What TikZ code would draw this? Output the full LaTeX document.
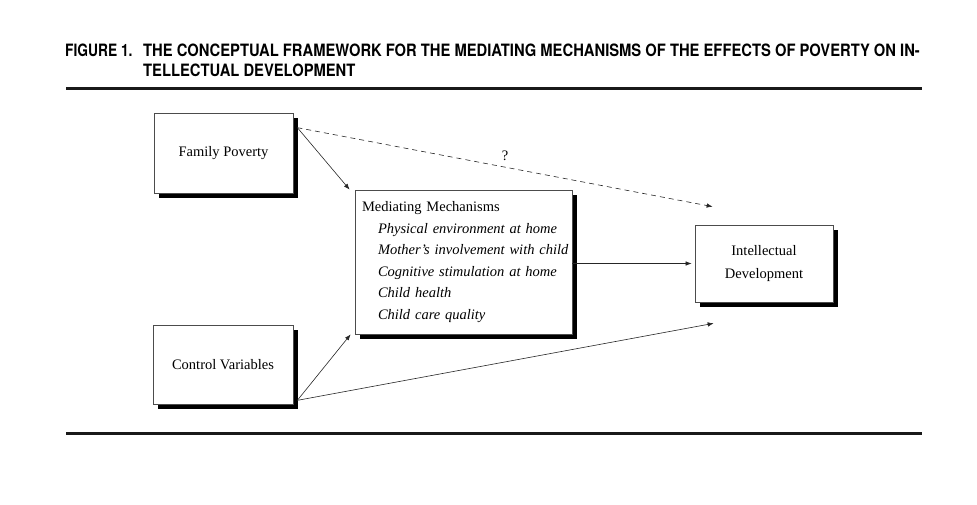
\documentclass[tikz,border=0pt]{standalone}
\usepackage{fontspec}
\setmainfont{Liberation Serif}
\newfontfamily\headfont[FakeStretch=0.868]{TeX Gyre Heros}
\newfontfamily\figfont[FakeStretch=0.81]{TeX Gyre Heros}
\usetikzlibrary{arrows.meta, positioning, shadows}

\begin{document}
\begin{tikzpicture}[x=1pt,y=-1pt,
  box/.style={draw=black!70,fill=white,line width=0.7pt,
    drop shadow={shadow xshift=5pt,shadow yshift=-5pt,fill=black,opacity=1},
    font=\fontsize{14.5}{23}\selectfont,align=center,inner sep=4pt},
  arr/.style={-{Latex[length=6pt,width=4.5pt]},line width=0.6pt,draw=black!85},
  head/.style={font=\bfseries\fontsize{17}{22}\selectfont,inner sep=0pt,anchor=base west},
  rule/.style={line width=3pt,draw=black!90}]
  \useasboundingbox (0,0) rectangle (977,505);
  %% title and rules
  \node[head](fig) at (65,57){\figfont FIGURE 1.};
  \node[head](tl1) at (143,57){\headfont THE CONCEPTUAL FRAMEWORK FOR THE MEDIATING MECHANISMS OF THE EFFECTS OF POVERTY ON IN-};
  \node[head](tl2) at (143,77){\headfont TELLECTUAL DEVELOPMENT};
  \coordinate (rt1) at (66,89);\coordinate (rt2) at (922,89);
  \coordinate (rb1) at (66,433);\coordinate (rb2) at (922,433);
  \draw[rule](rt1)--(rt2);
  \draw[rule](rb1)--(rb2);
  %% boxes
  \node[box,minimum width=139,minimum height=80](fp) at (223.5,153){Family Poverty};
  \node[box,minimum width=140,minimum height=79](cv) at (223,364.5){Control Variables};
  \node[box,minimum width=217,minimum height=144,align=left,inner xsep=0pt,text width=217,
    font=\fontsize{14.5}{21.5}\selectfont](med) at (463.5,262){\hspace*{7pt}Mediating Mechanisms\\
    \hspace*{23pt}\textit{Physical environment at home}\\
    \hspace*{23pt}\textit{Mother's involvement with child}\\
    \hspace*{23pt}\textit{Cognitive stimulation at home}\\
    \hspace*{23pt}\textit{Child health}\\
    \hspace*{23pt}\textit{Child care quality}};
  \node[box,minimum width=138,minimum height=77](id) at (764,263.5){Intellectual\\Development};
  %% connectors
  \draw[arr]([xshift=4pt,yshift=-15pt]fp.north east)--([xshift=-5pt]med.north west);
  \draw[arr,dash pattern=on 5pt off 4pt]([xshift=4pt,yshift=-15pt]fp.north east)--([xshift=18pt,yshift=18pt]id.north west)
    node[pos=0.5,above=3pt,font=\fontsize{14.5}{17}\selectfont](q){?};
  \draw[arr]([xshift=4pt,yshift=4pt]cv.south east)--([xshift=-4pt]med.south west);
  \draw[arr]([xshift=4pt,yshift=4pt]cv.south east)--([xshift=19pt,yshift=-21pt]id.south west);
  \draw[arr](med.east |- id.west)--([xshift=-3pt]id.west);
\end{tikzpicture}
\end{document}
